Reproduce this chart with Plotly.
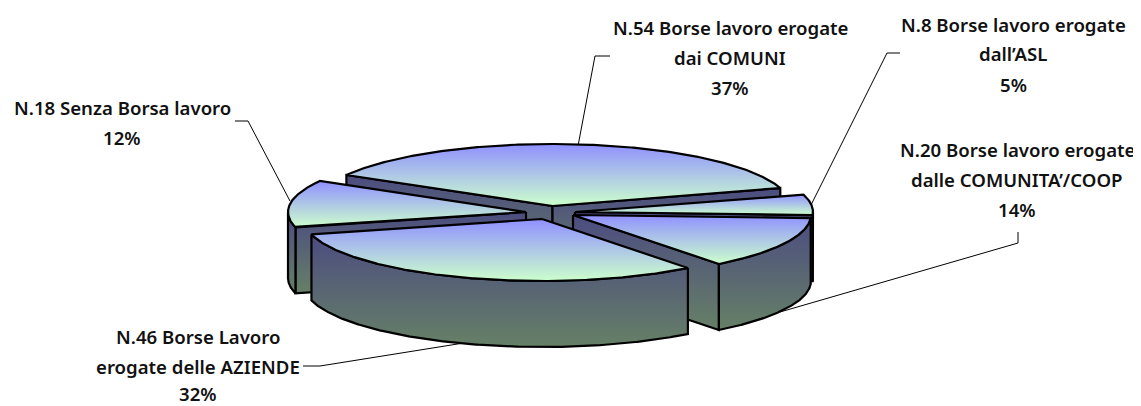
import numpy as np
import plotly.graph_objects as go

# Data
categories = ["COMUNI", "ASL", "COOP", "AZIENDE", "SENZA"]
values = [54, 8, 20, 46, 18]

label_lines = [
    ["N.54 Borse lavoro erogate", "dai COMUNI", "37%"],
    ["N.8 Borse lavoro erogate", "dall’ASL", "5%"],
    ["N.20 Borse lavoro erogate", "dalle COMUNITA’/COOP", "14%"],
    ["N.46 Borse Lavoro", "erogate delle AZIENDE", "32%"],
    ["N.18 Senza Borsa lavoro", "12%"],
]

# Layout of the exploded pie (pixel-like axis units)
RX, RY, DEPTH = 238, 62, 66
START = 150.0
PAGE_MARGIN = 8  # the page body's default margin
apex = {"COMUNI": (552.5, 206), "ASL": (575, 212), "COOP": (573, 215),
        "AZIENDE": (542, 219), "SENZA": (526, 212)}
draw_order = ["COMUNI", "ASL", "SENZA", "COOP", "AZIENDE"]
label_pos = [(730, [27, 57, 87]), (1013, [24, 53, 84]), (1017, [149, 179, 209]),
             (198, [336, 366, 393]), (122, [107, 137])]
leaders = [
    "M 610 56 L 595 56 L 578 146",
    "M 900 53 L 887 53 L 811 205",
    "M 1018 232 L 1018 243 L 780 312",
    "M 303 366 L 320 366 L 470 342",
    "M 235 121 L 248 121 L 290 201",
]
TOP_SCALE = [[0, "#9090ff"], [1, "#ccffcc"]]
WALL_SCALE = [[0, "#4c4c80"], [1, "#668066"]]

# Slice angles, clockwise from START
total = sum(values)
angles = {}
a = START
for c, v in zip(categories, values):
    b = a - v / total * 360
    angles[c] = (a, b)
    a = b


def rim(c, t):
    ax, ay = apex[c]
    t = np.radians(t)
    return ax + RX * np.cos(t), ay - RY * np.sin(t)


def face(xs, ys, scale):
    return go.Scatter(
        x=list(xs), y=list(ys), mode="lines", fill="toself",
        fillgradient=dict(type="vertical", colorscale=scale, start=min(ys), stop=max(ys)),
        line=dict(color="black", width=2.2, shape="linear"),
        hoverinfo="skip", showlegend=False,
    )


fig = go.Figure()
for c in draw_order:
    hi, lo = angles[c]
    ax, ay = apex[c]
    mx, my = rim(c, (hi + lo) / 2)
    # Cut walls whose outward normal points down the screen
    for t in (hi, lo):
        rx, ry = rim(c, t)
        nx, ny = -(ry - ay), rx - ax
        if nx * (mx - ax) + ny * (my - ay) > 0:
            nx, ny = -nx, -ny
        if ny > 0:
            fig.add_trace(face([ax, rx, rx, ax, ax],
                               [ay, ry, ry + DEPTH, ay + DEPTH, ay], WALL_SCALE))
    # Outer wall: the part of the rim at the front of the ellipse
    ts = np.linspace(hi, lo, 241)
    front = ts[np.sin(np.radians(ts)) <= 0]
    if len(front) > 1:
        xs, ys = rim(c, front)
        fig.add_trace(face(np.r_[xs, xs[::-1], xs[0]],
                           np.r_[ys, ys[::-1] + DEPTH, ys[0]], WALL_SCALE))
    # Top face
    xs, ys = rim(c, ts)
    fig.add_trace(face(np.r_[ax, xs, ax], np.r_[ay, ys, ay], TOP_SCALE))

annotations = []
for lines, (cx, ys) in zip(label_lines, label_pos):
    for line, y in zip(lines, ys):
        annotations.append(dict(x=cx, y=y, text=line, showarrow=False, xanchor="center",
                                yanchor="middle",
                                font=dict(family="Noto Sans", size=18.6, color="#111111",
                                          weight=600)))

fig.update_layout(
    width=1141 - PAGE_MARGIN, height=406 - PAGE_MARGIN, margin=dict(l=0, r=0, t=0, b=0),
    paper_bgcolor="white", plot_bgcolor="white", showlegend=False,
    xaxis=dict(range=[PAGE_MARGIN, 1141], visible=False, fixedrange=True),
    yaxis=dict(range=[406, PAGE_MARGIN], visible=False, fixedrange=True),
    annotations=annotations,
    shapes=[dict(type="path", path=p, xref="x", yref="y", layer="below",
                 line=dict(color="black", width=1)) for p in leaders],
)
fig.write_html("out.html", config={"displayModeBar": False})
